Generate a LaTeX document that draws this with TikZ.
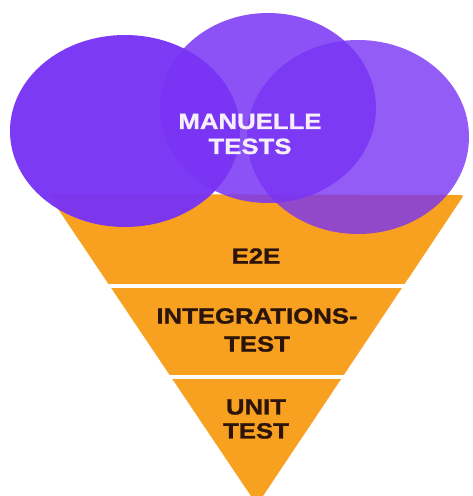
\documentclass[tikz,border=0pt]{standalone}
\usepackage{fontspec}
\setmainfont{Liberation Sans}
\newfontfamily\heavyfont{Liberation Sans Bold}[FakeBold=1.2, FakeStretch=1.17]
\definecolor{funnelorange}{RGB}{248,160,32}
\definecolor{cloudviolet}{RGB}{121,52,244}
\definecolor{darktext}{RGB}{43,20,10}
\definecolor{lighttext}{RGB}{246,238,248}
\begin{document}
\begin{tikzpicture}[x=1pt,y=-1pt,
  label/.style={font=\heavyfont\fontsize{22}{26}\selectfont, align=center, inner sep=0pt},
  darklabel/.style={label, text=darktext},
  lightlabel/.style={label, text=lighttext},
  cloud/.style={fill=cloudviolet}
]
\useasboundingbox (0,0) rectangle (472,496);
\clip (0,0) rectangle (472,496);
\fill[white] (0,0) rectangle (472,496);

% funnel
\coordinate (tl) at (48,194);
\coordinate (tr) at (464,195);
\coordinate (tip) at (257,505);
\fill[funnelorange, rounded corners=3pt] (tl) -- (tr) -- (tip) -- cycle;

% white gaps between the layers
\coordinate (g1l) at (0,286);
\coordinate (g1r) at (472,286);
\coordinate (g2l) at (0,377);
\coordinate (g2r) at (472,377);
\draw[white, line width=4pt] (g1l) -- (g1r);
\draw[white, line width=4pt] (g2l) -- (g2r);

% cloud of manual tests
\fill[cloud, fill opacity=0.85] (268,108) ellipse [x radius=108, y radius=95];
\fill[cloud, fill opacity=0.97] (125,131) ellipse [x radius=115, y radius=96];
\fill[cloud, fill opacity=0.8] (358,137) ellipse [x radius=111, y radius=97];

% texts
\node[lightlabel] (manual) at (250,134) {MANUELLE\\[-1pt]TESTS};
\node[darklabel] (e2e) at (256,256) {E2E};
\node[darklabel] (integ) at (257,330) {INTEGRATIONS-\\[2pt]TEST};
\node[darklabel] (unit) at (256,419) {UNIT\\[-2pt]TEST};
\end{tikzpicture}
\end{document}
